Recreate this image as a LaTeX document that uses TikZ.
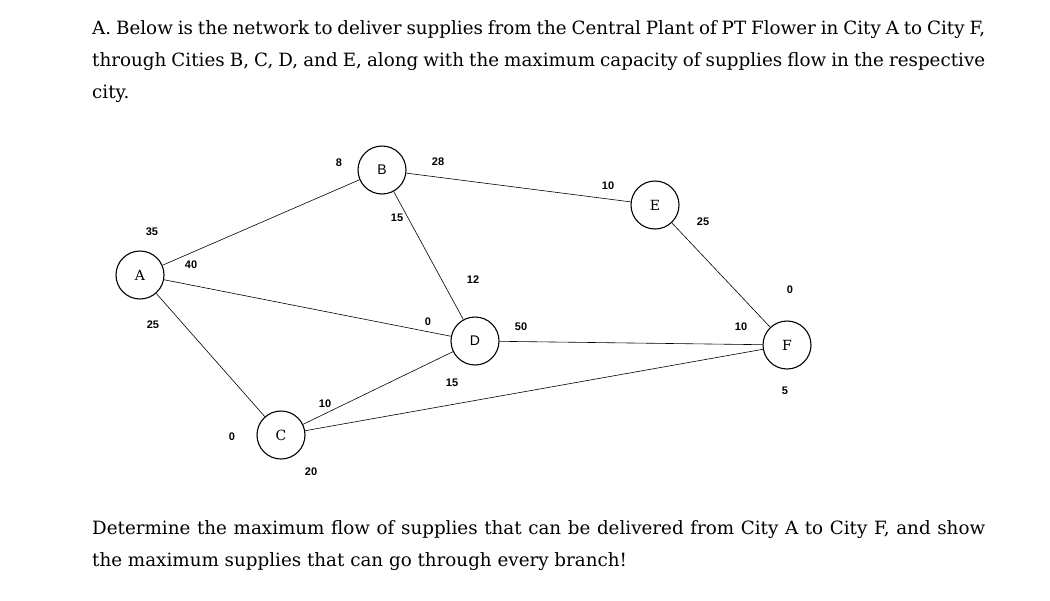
\documentclass[tikz,border=0pt]{standalone}
\usepackage{fontspec}
\setmainfont{DejaVu Serif}
\newfontfamily\lblfont{Liberation Sans}
\begin{document}
\begin{tikzpicture}[x=1pt,y=-1pt,
  city/.style={circle,draw,line width=1.1pt,minimum size=48pt,inner sep=0pt,font=\fontsize{14}{14}\selectfont},
  edge/.style={draw,line width=0.6pt},
  lbl/.style={font=\lblfont\bfseries\fontsize{11}{11}\selectfont,inner sep=0pt},
  para/.style={anchor=north west,text width=893pt,align=justify,inner sep=0pt,font=\fontsize{18.3}{32}\selectfont}]
\useasboundingbox (0,0) rectangle (1050,600);
\node[para] (t1) at (92,20) {A. Below is the network to deliver supplies from the Central Plant of PT Flower in City A to City F, through Cities B, C, D, and E, along with the maximum capacity of supplies flow in the respective city.};
\node[city] (A) at (140,275) {A};
\node[city] (B) at (382,170) {\lblfont B};
\node[city] (E) at (655,205) {E};
\node[city] (D) at (475,341) {\lblfont D};
\node[city] (F) at (787,345) {F};
\node[city] (C) at (281,435) {C};
\draw[edge] (A)--(B);
\draw[edge] (A)--(D);
\draw[edge] (A)--(C);
\draw[edge] (B)--(E);
\draw[edge] (B)--(D);
\draw[edge] (E)--(F);
\draw[edge] (D)--(F);
\draw[edge] (C)--(D);
\draw[edge] (C)--(F);
\node[lbl] (l1) at (152,232) {35};
\node[lbl] (l2) at (191,265) {40};
\node[lbl] (l3) at (153,325) {25};
\node[lbl] (l4) at (339,163) {8};
\node[lbl] (l5) at (438,162) {28};
\node[lbl] (l6) at (397,218) {15};
\node[lbl] (l7) at (608,186) {10};
\node[lbl] (l8) at (703,222) {25};
\node[lbl] (l9) at (473,280) {12};
\node[lbl] (l10) at (428,322) {0};
\node[lbl] (l11) at (521,327) {50};
\node[lbl] (l12) at (452,383) {15};
\node[lbl] (l13) at (741,327) {10};
\node[lbl] (l14) at (790,290) {0};
\node[lbl] (l15) at (785,391) {5};
\node[lbl] (l16) at (325,404) {10};
\node[lbl] (l17) at (232,437) {0};
\node[lbl] (l18) at (311,472) {20};
\node[para] (t2) at (92,520) {Determine the maximum flow of supplies that can be delivered from City A to City F, and show the maximum supplies that can go through every branch!};
\end{tikzpicture}
\end{document}
